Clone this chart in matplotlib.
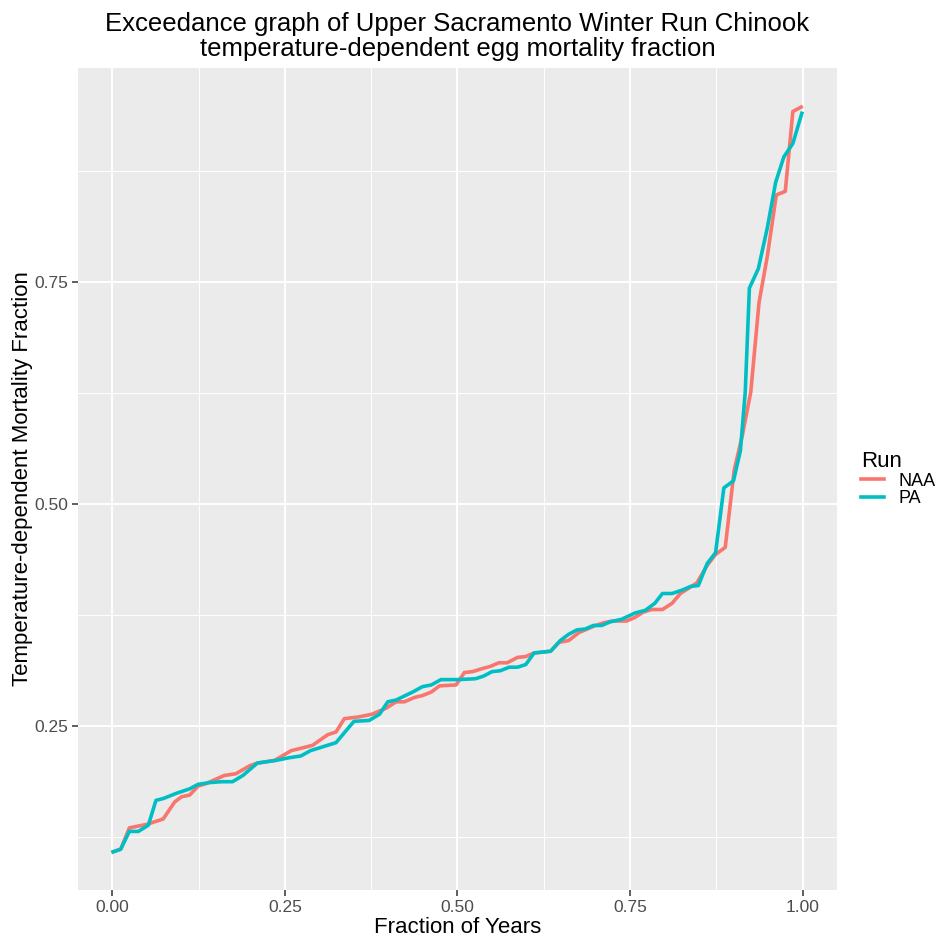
# Exceedance curves: temperature-dependent egg mortality, Upper Sacramento Winter Run Chinook

import numpy as np
from matplotlib import pyplot as plt
from matplotlib.lines import Line2D

plt.rcParams['font.family'] = ['Liberation Sans', 'DejaVu Sans']

# NAA run
naa_x = [0.001, 0.012, 0.0245, 0.05, 0.0735, 0.09, 0.1, 0.112, 0.124, 0.136,
         0.162, 0.179, 0.199, 0.21, 0.235, 0.259, 0.275, 0.29, 0.312, 0.324,
         0.336, 0.357, 0.376, 0.397, 0.411, 0.423, 0.438, 0.449, 0.462, 0.474,
         0.498, 0.51, 0.522, 0.534, 0.548, 0.56, 0.572, 0.587, 0.599, 0.611,
         0.635, 0.647, 0.661, 0.676, 0.688, 0.7, 0.712, 0.724, 0.745, 0.757,
         0.769, 0.781, 0.797, 0.811, 0.823, 0.835, 0.847, 0.862, 0.874, 0.888,
         0.901, 0.913, 0.925, 0.937, 0.949, 0.962, 0.975, 0.986, 0.998]
naa_y = [0.108, 0.111, 0.135, 0.139, 0.145, 0.164, 0.17, 0.172, 0.182, 0.185,
         0.194, 0.196, 0.205, 0.208, 0.211, 0.222, 0.225, 0.228, 0.24, 0.243,
         0.258, 0.26, 0.263, 0.27, 0.277, 0.277, 0.282, 0.284, 0.288, 0.295,
         0.296, 0.31, 0.311, 0.314, 0.317, 0.321, 0.321, 0.327, 0.328, 0.332,
         0.334, 0.344, 0.346, 0.355, 0.359, 0.363, 0.366, 0.368, 0.368, 0.372,
         0.378, 0.381, 0.381, 0.388, 0.399, 0.405, 0.411, 0.431, 0.443, 0.451,
         0.538, 0.578, 0.626, 0.727, 0.779, 0.848, 0.852, 0.942, 0.947]

# PA run
pa_x = [0.001, 0.012, 0.0245, 0.0375, 0.052, 0.063, 0.0735, 0.093, 0.112, 0.124,
        0.141, 0.158, 0.174, 0.189, 0.21, 0.237, 0.256, 0.273, 0.287, 0.324,
        0.338, 0.35, 0.372, 0.387, 0.399, 0.411, 0.435, 0.449, 0.462, 0.476,
        0.5, 0.526, 0.538, 0.55, 0.562, 0.575, 0.587, 0.599, 0.611, 0.635,
        0.649, 0.661, 0.673, 0.685, 0.697, 0.709, 0.721, 0.738, 0.757, 0.772,
        0.786, 0.797, 0.811, 0.826, 0.838, 0.849, 0.862, 0.874, 0.886, 0.9,
        0.91, 0.917, 0.923, 0.936, 0.949, 0.961, 0.973, 0.986, 0.999]
pa_y = [0.108, 0.111, 0.131, 0.131, 0.138, 0.166, 0.168, 0.174, 0.179, 0.184,
        0.186, 0.187, 0.187, 0.194, 0.208, 0.211, 0.214, 0.216, 0.222, 0.231,
        0.244, 0.255, 0.256, 0.263, 0.277, 0.279, 0.288, 0.294, 0.296, 0.302,
        0.302, 0.303, 0.306, 0.311, 0.312, 0.316, 0.316, 0.319, 0.332, 0.334,
        0.346, 0.353, 0.358, 0.359, 0.363, 0.363, 0.367, 0.37, 0.377, 0.38,
        0.388, 0.399, 0.399, 0.403, 0.407, 0.408, 0.433, 0.445, 0.518, 0.526,
        0.56, 0.626, 0.743, 0.765, 0.811, 0.862, 0.891, 0.906, 0.94]

x_ticks = [0.0, 0.25, 0.5, 0.75, 1.0]
x_labels = ['0.00', '0.25', '0.50', '0.75', '1.00']
y_ticks = [0.25, 0.5, 0.75]
y_labels = ['0.25', '0.50', '0.75']

fig = plt.figure(figsize=(9.37, 9.46), dpi=100)
ax = fig.add_axes([0.0832, 0.0592, 0.8101, 0.8689])
ax.set_facecolor('#EBEBEB')
for s in ax.spines.values():
    s.set_visible(False)

ax.plot(naa_x, naa_y, c='#F8766D', lw=2.6, label='NAA', solid_joinstyle='round')
ax.plot(pa_x, pa_y, c='#00BFC4', lw=2.6, label='PA', solid_joinstyle='round')

ax.set_xlim(-0.05, 1.05)
ax.set_ylim(0.065, 0.991)
ax.set_xticks(x_ticks)
ax.set_xticklabels(x_labels)
ax.set_yticks(y_ticks)
ax.set_yticklabels(y_labels)
ax.set_xticks([0.125, 0.375, 0.625, 0.875], minor=True)
ax.set_yticks([0.125, 0.375, 0.625, 0.875], minor=True)
ax.grid(which='major', color='white', lw=1.4)
ax.grid(which='minor', color='white', lw=0.7)
ax.set_axisbelow(True)
ax.tick_params(which='major', length=4, width=1.1, color='#333333',
               labelsize=12.5, labelcolor='#4D4D4D', pad=3)
ax.tick_params(which='minor', length=0)

ax.set_xlabel('Fraction of Years', fontsize=16, labelpad=2)
ax.set_ylabel('Temperature-dependent Mortality Fraction', fontsize=16, labelpad=1)
ax.set_title('Exceedance graph of Upper Sacramento Winter Run Chinook\n'
             'temperature-dependent egg mortality fraction', fontsize=18.5, pad=9,
             linespacing=1.05)

handles = [Line2D([], [], c='#F8766D', lw=2.6), Line2D([], [], c='#00BFC4', lw=2.6)]
leg = ax.legend(handles, ['NAA', 'PA'], title='Run', loc='center left',
                bbox_to_anchor=(1.01, 0.5), frameon=False, fontsize=13,
                title_fontsize=16, handlelength=1.3, handletextpad=0.8,
                labelspacing=0.05)
leg._legend_box.align = 'left'

fig.savefig('out.png', dpi=100)
